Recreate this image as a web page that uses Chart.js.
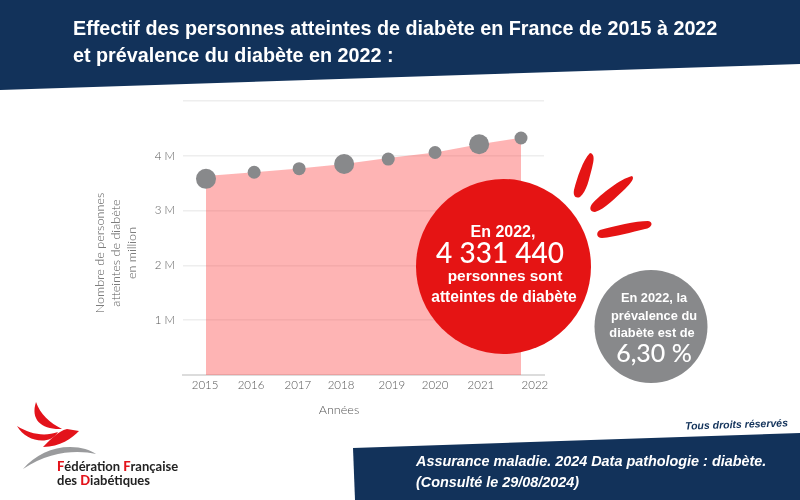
<!DOCTYPE html>
<html lang="fr">
<head>
<meta charset="utf-8">
<script src="https://cdn.jsdelivr.net/npm/chart.js@4"></script>
<style>
  html, body { margin: 0; padding: 0; background: #fff; }
  #page { position: relative; width: 800px; height: 500px; overflow: hidden; font-family: "Liberation Sans", sans-serif; }
  #page > * { position: absolute; }
  #chart { left: 0; top: 0; }
  #deco { left: 0; top: 0; }
  .txt { white-space: nowrap; }
  .center { text-align: center; transform: translateX(-50%); }
  .axis { font-family: Lato, sans-serif; font-weight: 300; color: #555; font-size: 12.6px; }
  .big { font-family: Lato, sans-serif; font-weight: 500; color: #fff; }
  .white { color: #fff; font-weight: bold; }
  .logo { font-family: Lato, sans-serif; font-weight: 700; font-size: 13px; color: #222; }
  .logo b { color: #e3131b; }
</style>
</head>
<body>
<div id="page">
  <canvas id="chart" width="800" height="500"></canvas>
  <svg id="deco" width="800" height="500">
    <polygon points="0,0 800,0 800,64 0,90" fill="#12325a"/>
    <polygon points="353,448 800,433 800,500 355,500" fill="#12325a"/>
    <circle cx="503.5" cy="266.5" r="87.5" fill="#e51414"/>
    <circle cx="651" cy="326.5" r="56.5" fill="#88898b"/>
    <path d="M590 153 C595 154 594 160 592 168 C589 179 587 191 580 197 C575 199 573 195 574 190 C577 178 583 160 590 153 Z" fill="#e51414"/>
    <path d="M632 176 C635 178 631 183 625 189 C615 198 605 209 595 212 C590 212 589 208 592 204 C601 194 620 179 632 176 Z" fill="#e51414"/>
    <path d="M648 221 C654 222 652 228 645 229 C632 232 615 237 602 238 C596 238 596 232 600 230 C614 226 636 221 648 221 Z" fill="#e51414"/>
    <path d="M36 402 C30 420 42 430 62 429 C50 423 40 414 36 402 Z" fill="#e3131b"/>
    <path d="M17 426 C26 442 50 446 58 432 C44 437 30 434 17 426 Z" fill="#e3131b"/>
    <path d="M43 447 C50 440 58 431 67 429 L79 431 C72 438 60 447 43 447 Z" fill="#e3131b"/>
    <path d="M23 469 C35 455 52 447 70 447 C82 447 90 450 96 454 C80 450 50 450 23 469 Z" fill="#9a9b9d"/>
  </svg>

  <div class="txt white" style="left:73px;top:15px;font-size:19.75px;line-height:27px;">Effectif des personnes atteintes de diabète en France de 2015 à 2022<br>et prévalence du diabète en 2022 :</div>

  <div class="txt axis center" style="left:339px;top:402px;">Années</div>
  <div class="txt axis center" style="left:116px;top:253px;line-height:16px;transform:translate(-50%,-50%) rotate(-90deg);">Nombre de personnes<br>atteintes de diabète<br>en million</div>

  <div class="txt white center" style="left:503px;top:223px;font-size:16px;">En 2022,</div>
  <div class="txt big center" style="left:500px;top:235px;font-size:28px;">4 331 440</div>
  <div class="txt white center" style="left:505px;top:267px;font-size:15.4px;">personnes sont</div>
  <div class="txt white center" style="left:504px;top:288px;font-size:15.6px;">atteintes de diabète</div>

  <div class="txt white center" style="left:654px;top:290px;font-size:12.8px;">En 2022, la</div>
  <div class="txt white center" style="left:654px;top:308px;font-size:12.8px;">prévalence du</div>
  <div class="txt white center" style="left:652px;top:325px;font-size:12.8px;">diabète est de</div>
  <div class="txt big center" style="left:654px;top:337px;font-size:25px;">6,30 %</div>

  <div class="txt" style="left:685px;top:418px;font-size:10.5px;font-weight:bold;font-style:italic;color:#12325a;transform:rotate(-1.8deg);">Tous droits réservés</div>
  <div class="txt" style="left:416px;top:451px;font-size:14.4px;line-height:21px;font-style:italic;font-weight:bold;color:#fff;">Assurance maladie. 2024 Data pathologie : diabète.<br>(Consulté le 29/08/2024)</div>

  <div class="txt logo" style="left:57px;top:459px;line-height:14px;"><b>F</b>édération <b>F</b>rançaise<br>des <b>D</b>iabétiques</div>
</div>

<script>
const years = [2015, 2016, 2017, 2018, 2019, 2020, 2021, 2022];
// the years are not evenly spaced in the picture
const pointYears = [2015, 2016.07, 2017.07, 2018.07, 2019.05, 2020.09, 2021.07, 2022];
const labelYears = [2014.98, 2016, 2017.04, 2018, 2019.13, 2020.09, 2021.11, 2022.31];
const areaValues = [3630000, 3700000, 3770000, 3850000, 3960000, 4060000, 4210000, 4331440];
const dotValues = [3580000, 3700000, 3765000, 3850000, 3940000, 4060000, 4210000, 4325000];
const dotSizes = [10, 6.5, 6.5, 10, 6.5, 6.5, 10, 6.5];
const yTicks = [1000000, 2000000, 3000000, 4000000];

const tickFont = { family: "Lato", size: 11.5, weight: "300" };

new Chart(document.getElementById("chart").getContext("2d"), {
  data: {
    datasets: [
      {
        type: "scatter",
        data: pointYears.map((x, i) => ({ x: x, y: dotValues[i] })),
        pointRadius: dotSizes,
        pointHoverRadius: dotSizes,
        backgroundColor: "#88898b",
        borderWidth: 0,
        order: 1,
      },
      {
        type: "line",
        data: pointYears.map((x, i) => ({ x: x, y: areaValues[i] })),
        fill: "origin",
        backgroundColor: "rgba(253, 80, 80, 0.43)",
        borderWidth: 0,
        pointRadius: 0,
        tension: 0,
        order: 2,
      },
    ],
  },
  options: {
    responsive: false,
    animation: false,
    layout: { padding: { left: 143, right: 256, top: 101, bottom: 85 } },
    plugins: { legend: { display: false }, tooltip: { enabled: false } },
    scales: {
      x: {
        type: "linear",
        min: 2014.489,
        max: 2022.511,
        afterBuildTicks: (scale) => {
          scale.ticks = labelYears.map((v) => ({ value: v }));
        },
        afterFit: (scale) => {
          scale.height = 40;
        },
        grid: { display: false, drawTicks: false },
        border: { display: true, color: "#dcdcdc", width: 2 },
        ticks: {
          autoSkip: false,
          maxRotation: 0,
          padding: 3,
          color: "#555",
          font: tickFont,
          callback: (v, i) => years[i],
        },
      },
      y: {
        min: 0,
        max: 5000000,
        afterFit: (scale) => {
          scale.width = 40;
        },
        grid: { color: "#eeeeee", lineWidth: 1.5, drawTicks: false },
        border: { display: false },
        ticks: {
          stepSize: 1000000,
          padding: 8,
          color: "#555",
          font: tickFont,
          callback: (v) => (yTicks.includes(v) ? v / 1000000 + " M" : ""),
        },
      },
    },
  },
});
</script>
</body>
</html>
